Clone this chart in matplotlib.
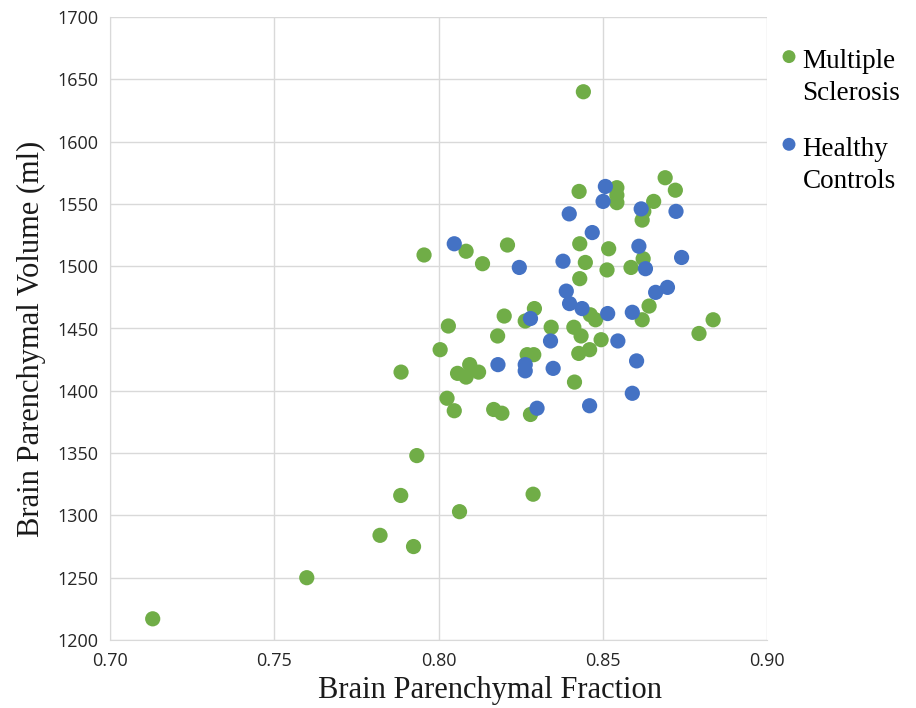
import matplotlib
matplotlib.use("Agg")
import matplotlib.pyplot as plt

ms_x = [0.8441, 0.8690, 0.8721, 0.8428, 0.8543, 0.8543, 0.8543, 0.8655, 0.8625, 0.8620,
        0.8210, 0.8430, 0.8518, 0.8084, 0.7956, 0.8134, 0.8447, 0.8623, 0.8513, 0.8586,
        0.8430, 0.8292, 0.8264, 0.8462, 0.8478, 0.8641, 0.8620, 0.8836, 0.8793, 0.8343,
        0.8412, 0.8434, 0.8495, 0.8427, 0.8460, 0.8270, 0.8290, 0.8414, 0.8280, 0.8200,
        0.8030, 0.8180, 0.8005, 0.7886, 0.8058, 0.8095, 0.8084, 0.8122, 0.8026, 0.8048,
        0.8168, 0.8193, 0.7934, 0.7885, 0.8064, 0.8288, 0.7822, 0.7924, 0.7599, 0.7130]
ms_y = [1640, 1571, 1561, 1560, 1563, 1557, 1551, 1552, 1544, 1537,
        1517, 1518, 1514, 1512, 1509, 1502, 1503, 1506, 1497, 1499,
        1490, 1466, 1456, 1461, 1457, 1468, 1457, 1457, 1446, 1451,
        1451, 1444, 1441, 1430, 1433, 1429, 1429, 1407, 1381, 1460,
        1452, 1444, 1433, 1415, 1414, 1421, 1411, 1415, 1394, 1384,
        1385, 1382, 1348, 1316, 1303, 1317, 1284, 1275, 1250, 1217]

hc_x = [0.8508, 0.8501, 0.8398, 0.8617, 0.8723, 0.8468, 0.8048, 0.8610, 0.8379, 0.8246,
        0.8630, 0.8740, 0.8389, 0.8399, 0.8437, 0.8661, 0.8697, 0.8280, 0.8515, 0.8590,
        0.8341, 0.8546, 0.8181, 0.8264, 0.8264, 0.8349, 0.8603, 0.8590, 0.8460, 0.8300]
hc_y = [1564, 1552, 1542, 1546, 1544, 1527, 1518, 1516, 1504, 1499,
        1498, 1507, 1480, 1470, 1466, 1479, 1483, 1458, 1462, 1463,
        1440, 1440, 1421, 1421, 1416, 1418, 1424, 1398, 1388, 1386]

x_ticks = [0.70, 0.75, 0.80, 0.85, 0.90]
y_ticks = [1200, 1250, 1300, 1350, 1400, 1450, 1500, 1550, 1600, 1650, 1700]

green = "#70AD47"
blue = "#4472C4"

fig = plt.figure(figsize=(9.16, 7.08), dpi=100)
ax = fig.add_axes([110 / 916, 68 / 708, 657 / 916, 623 / 708])

ax.scatter(ms_x, ms_y, s=120, color=green, edgecolors="none", zorder=3, label="Multiple\nSclerosis")
ax.scatter(hc_x, hc_y, s=120, color=blue, edgecolors="none", zorder=4, label="Healthy\nControls")

ax.set_xlim(0.70, 0.90)
ax.set_ylim(1200, 1700)
ax.set_xticks(x_ticks)
ax.set_yticks(y_ticks)
ax.set_xticklabels([f"{v:.2f}" for v in x_ticks])
ax.set_yticklabels([str(v) for v in y_ticks])
ax.tick_params(length=0, labelsize=13, colors="#262626", pad=8)
ax.tick_params(axis="x", pad=9)
for lab in ax.get_xticklabels() + ax.get_yticklabels():
    lab.set_family("Open Sans")

ax.grid(True, color="#d9d9d9", linewidth=1)
ax.set_axisbelow(True)
for s in ["top", "right"]:
    ax.spines[s].set_visible(False)
for s in ["left", "bottom"]:
    ax.spines[s].set_color("#d9d9d9")

ax.set_xlabel("Brain Parenchymal Fraction", family="Liberation Serif", fontsize=22, color="#1a1a1a", labelpad=7)
ax.xaxis.set_label_coords(0.578, -0.058)
ax.set_ylabel("Brain Parenchymal Volume (ml)", family="Liberation Serif", fontsize=22, color="#1a1a1a", labelpad=8)
ax.yaxis.set_label_coords(-0.097, 0.484)

leg = ax.legend(loc="upper left", bbox_to_anchor=(1.017, 0.948), bbox_transform=ax.transAxes,
                frameon=False, prop={"family": "Liberation Serif", "size": 19.5},
                handlelength=0.8, handletextpad=0.1, labelspacing=1.14,
                markerscale=0.85, borderaxespad=0, borderpad=0,
                scatterpoints=1, scatteryoffsets=[1.62])
for t in leg.get_texts():
    t.set_linespacing(1.36)

fig.savefig("out.png", dpi=100)
